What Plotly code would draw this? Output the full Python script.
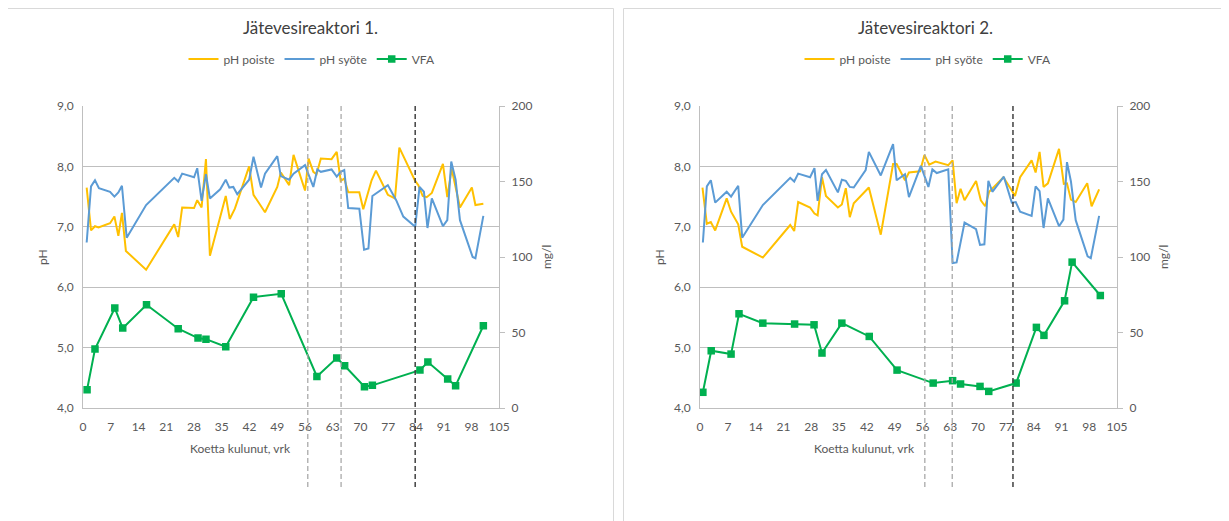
import plotly.graph_objects as go

# ---------------- data: reactor 1 ----------------
r1_poiste_day = [0.9, 2, 3, 3.9, 6.8, 7.9, 8.9, 9.8, 10.8, 15.9, 23, 24, 25, 28, 28.8,
                 29.9, 31, 32, 36, 37, 38.3, 41.9, 43, 45.9, 49, 49.9, 52, 53.1, 56, 56.9,
                 58.1, 58.9, 60, 62.7, 64, 65, 65.9, 66.9, 69.7, 70.7, 72.8, 73.9, 76.9, 78.7,
                 79.8, 83.8, 84.6, 85.7, 86.7, 88, 90.8, 91.9, 93, 95.1, 98.1, 99, 101]
r1_poiste_ph = [7.65, 6.94, 7.01, 6.99, 7.06, 7.17, 6.85, 7.23, 6.60, 6.29, 7.04, 6.83, 7.32, 7.31, 7.44,
                7.32, 8.12, 6.52, 7.51, 7.13, 7.30, 8.00, 7.53, 7.24, 7.66, 7.90, 7.69, 8.19, 7.60, 8.13,
                7.91, 7.87, 8.13, 8.12, 8.24, 7.76, 7.80, 7.57, 7.57, 7.29, 7.77, 7.93, 7.53, 7.47,
                8.31, 7.76, 7.69, 7.51, 7.49, 7.56, 8.04, 7.49, 7.96, 7.32, 7.65, 7.36, 7.38]

r1_syote_day = [0.9, 2, 3, 4, 6.8, 7.9, 8.9, 9.8, 11, 15.9, 23, 24, 25, 28, 28.8,
                29.9, 31, 32, 34.6, 36, 36.9, 37.9, 38.9, 41.9, 43, 44.9, 45.9, 49, 49.9, 52,
                53.1, 56, 56.8, 58.1, 59.1, 60, 62.7, 64, 65, 65.9, 66.9, 69.7, 70.9, 72, 73,
                76.9, 79, 80.8, 83.8, 84.9, 86, 86.9, 88, 90.8, 91.9, 92.9, 94, 95.1, 98.3, 99, 101]
r1_syote_ph = [6.74, 7.67, 7.77, 7.64, 7.58, 7.50, 7.57, 7.68, 6.82, 7.36, 7.81, 7.75, 7.88, 7.82, 7.97,
               7.43, 7.87, 7.47, 7.62, 7.78, 7.65, 7.66, 7.54, 7.78, 8.16, 7.65, 7.88, 8.17, 7.84, 7.78,
               7.88, 8.02, 7.88, 7.66, 7.95, 7.91, 7.95, 7.83, 7.91, 7.94, 7.31, 7.30, 6.62, 6.64, 7.51,
               7.69, 7.44, 7.17, 7.00, 7.66, 7.58, 6.98, 7.47, 7.01, 7.11, 8.08, 7.78, 7.11, 6.50, 6.48, 7.18]

r1_vfa_day = [1, 3, 8, 10, 16, 24, 29, 31, 36, 43, 50, 59, 64, 66, 71, 73, 85, 87, 92, 94, 101]
r1_vfa_mg = [12.1, 39.0, 66.2, 52.9, 68.4, 52.5, 46.3, 45.6, 40.6, 73.4, 75.6, 20.9, 33.1, 28.0,
             14.1, 15.0, 25.1, 30.4, 19.2, 14.8, 54.5]

r1_markers = [56.7, 65.1, 83.8]

# ---------------- data: reactor 2 ----------------
r2_poiste_day = [0.6, 1.7, 2.7, 3.8, 6.7, 7.8, 9.6, 10.6, 15.8, 22.7, 23.7, 24.7, 27.7, 28.8, 29.6,
                 30.7, 31.7, 34.7, 35.7, 36.7, 37.7, 38.7, 42.5, 45.5, 48.6, 49.5, 51.6, 52.6, 55.4, 56.5,
                 57.7, 59.3, 62.5, 63.6, 64.6, 65.6, 66.6, 69.5, 70.7, 71.8, 72.8, 76.4, 78.5, 79.3, 80.6,
                 83.5, 84.5, 85.5, 86.5, 87.6, 90.4, 91.6, 92.4, 93.4, 94.6, 97.5, 98.6, 100.5]
r2_poiste_ph = [7.65, 7.05, 7.08, 6.94, 7.47, 7.25, 7.04, 6.67, 6.49, 7.03, 6.93, 7.41, 7.32, 7.22, 7.19,
                7.82, 7.51, 7.32, 7.37, 7.64, 7.16, 7.39, 7.65, 6.87, 8.04, 8.04, 7.77, 7.90, 7.92, 8.19,
                8.03, 8.08, 8.02, 8.10, 7.39, 7.63, 7.44, 7.76, 7.44, 7.34, 7.58, 7.82, 7.60, 7.51, 7.82,
                8.10, 7.90, 8.24, 7.66, 7.72, 8.29, 7.71, 7.72, 7.45, 7.41, 7.72, 7.34, 7.62]

r2_syote_day = [0.7, 1.7, 2.7, 3.8, 6.7, 7.8, 9.6, 10.6, 15.8, 22.7, 23.7, 24.7, 27.7, 28.8, 29.6,
                30.7, 31.7, 34.7, 35.7, 36.7, 37.7, 38.7, 41.7, 42.5, 45.5, 48.6, 49.5, 51.6, 52.6, 55.6,
                57.5, 58.5, 59.6, 62.5, 63.6, 64.6, 66.6, 69.5, 70.5, 71.6, 72.6, 73.6, 76.5, 78.5, 79.5,
                80.6, 83.5, 84.5, 85.5, 86.5, 87.6, 90.4, 91.5, 92.4, 93.4, 94.6, 97.6, 98.4, 100.5]
r2_syote_ph = [6.74, 7.67, 7.77, 7.40, 7.58, 7.50, 7.68, 6.82, 7.36, 7.81, 7.75, 7.88, 7.82, 7.97, 7.43,
               7.87, 7.94, 7.57, 7.78, 7.76, 7.66, 7.65, 7.94, 8.24, 7.85, 8.37, 7.77, 7.87, 7.49, 8.01,
               7.66, 7.95, 7.89, 7.95, 6.40, 6.41, 7.07, 6.96, 6.70, 6.71, 7.76, 7.58, 7.83, 7.40, 7.41,
               7.25, 7.18, 7.67, 7.59, 6.98, 7.47, 7.01, 7.12, 8.07, 7.75, 7.11, 6.51, 6.48, 7.18]

r2_vfa_day = [0.7, 2.8, 7.8, 9.8, 15.8, 23.8, 28.7, 30.7, 35.7, 42.6, 49.6, 58.7, 63.6, 65.6,
              70.5, 72.7, 79.6, 84.7, 86.6, 91.8, 93.7, 100.8]
r2_vfa_mg = [10.4, 37.9, 35.7, 62.4, 56.2, 55.6, 55.1, 36.4, 56.2, 47.4, 25.1, 16.5, 18.1, 15.9,
             14.3, 11.0, 16.5, 53.4, 48.1, 71.0, 96.6, 74.5]

r2_markers = [56.6, 63.5, 78.8]

titles = ["Jätevesireaktori 1.", "Jätevesireaktori 2."]
series_names = ["pH poiste", "pH syöte", "VFA"]
x_title = "Koetta kulunut, vrk"
y_left_title = "pH"
y_right_title = "mg/l"

# ---------------- styling ----------------
W, H = 1229, 521
OFF = 8  # page body margin offsets the figure by 8 px
FONT = "Lato, Calibri, Carlito, sans-serif"
TXT = "#595959"
GRID = "#BFBFBF"
YELLOW = "#FFC000"
BLUE = "#5B9BD5"
GREEN = "#00B050"

def px(x):
    return (x - OFF) / W

def py(y):
    return 1 - (y - OFF) / H

plot_top, plot_bot = 106, 408
panels = [
    dict(x0=83.1, x1=499.2, box=(7.5, 613.5), cx=310.5, lx=312, xt=240,
         ylab_x=43, yrl_x=547,
         data=(r1_poiste_day, r1_poiste_ph, r1_syote_day, r1_syote_ph, r1_vfa_day, r1_vfa_mg),
         markers=r1_markers),
    dict(x0=700.1, x1=1117.0, box=(623.5, 1227.5), cx=925.5, lx=928, xt=864,
         ylab_x=660, yrl_x=1164,
         data=(r2_poiste_day, r2_poiste_ph, r2_syote_day, r2_syote_ph, r2_vfa_day, r2_vfa_mg),
         markers=r2_markers),
]

fig = go.Figure()
shapes = []
annotations = []
layout = dict(
    width=W, height=H,
    margin=dict(l=0, r=0, t=0, b=0, pad=0, autoexpand=False),
    paper_bgcolor="white", plot_bgcolor="white",
    separators=", ",
    font=dict(family=FONT, size=12, color=TXT),
    showlegend=True,
)

for i, p in enumerate(panels):
    xa = "x" if i == 0 else "x2"
    ya_l = "y" if i == 0 else "y3"
    ya_r = "y2" if i == 0 else "y4"
    leg = "legend" if i == 0 else "legend2"
    pd_, pp, sd, sp, vd, vm = p["data"]

    fig.add_trace(go.Scatter(x=pd_, y=pp, mode="lines", name=series_names[0],
                             line=dict(color=YELLOW, width=2), xaxis=xa, yaxis=ya_l, legend=leg))
    fig.add_trace(go.Scatter(x=sd, y=sp, mode="lines", name=series_names[1],
                             line=dict(color=BLUE, width=2), xaxis=xa, yaxis=ya_l, legend=leg))
    fig.add_trace(go.Scatter(x=vd, y=vm, mode="lines+markers", name=series_names[2],
                             line=dict(color=GREEN, width=2),
                             marker=dict(symbol="square", size=7.5, color=GREEN),
                             xaxis=xa, yaxis=ya_r, legend=leg))

    xdom = [px(p["x0"]), px(p["x1"])]
    ydom = [py(plot_bot), py(plot_top)]
    xkey = "xaxis" if i == 0 else "xaxis2"
    ylkey = "yaxis" if i == 0 else "yaxis3"
    yrkey = "yaxis2" if i == 0 else "yaxis4"

    layout[xkey] = dict(domain=xdom, anchor=ya_l, range=[0, 105], tick0=0, dtick=7,
                        showgrid=False, zeroline=False, showline=True, linecolor=GRID,
                        ticks="", ticklabelstandoff=8, automargin=False,
                        tickfont=dict(size=12, color=TXT))
    layout[ylkey] = dict(domain=ydom, anchor=xa, range=[4, 9], tick0=4, dtick=1,
                         tickformat=".1f", showgrid=True, gridcolor=GRID, gridwidth=1,
                         zeroline=False, showline=True, linecolor=GRID, ticks="",
                         ticklabelstandoff=6, automargin=False,
                         tickfont=dict(size=12, color=TXT))
    layout[yrkey] = dict(domain=ydom, anchor=xa, overlaying=ya_l, side="right",
                         range=[0, 200], tick0=0, dtick=50, showgrid=False, zeroline=False,
                         showline=True, linecolor=GRID, ticks="outside", ticklen=5,
                         tickcolor=GRID, ticklabelstandoff=4, automargin=False,
                         tickfont=dict(size=12, color=TXT))

    layout[leg] = dict(orientation="h", x=px(p["lx"]), xanchor="center",
                       y=py(59), yanchor="middle", bgcolor="rgba(0,0,0,0)",
                       font=dict(size=12, color=TXT), itemwidth=30, tracegroupgap=0)

    # chart border (bottom edge lies below the visible page)
    shapes.append(dict(type="rect", xref="paper", yref="paper",
                       x0=px(p["box"][0]), x1=px(p["box"][1]), y0=py(540), y1=py(8.5),
                       line=dict(color="#D9D9D9", width=1), fillcolor="rgba(0,0,0,0)",
                       layer="below"))
    # dashed phase markers
    for j, m in enumerate(p["markers"]):
        dark = j == 2
        shapes.append(dict(type="line", xref=xa, yref="paper", x0=m, x1=m,
                           y0=py(plot_top), y1=py(490),
                           line=dict(color="#404040" if dark else "#A6A6A6",
                                     width=1.5 if dark else 1.25, dash="5px,3px")))

    annotations.append(dict(text=titles[i], xref="paper", yref="paper",
                            x=px(p["cx"]), y=py(28), xanchor="center", yanchor="middle",
                            showarrow=False, font=dict(size=17, color="#404040")))
    annotations.append(dict(text=x_title, xref="paper", yref="paper",
                            x=px(p["xt"]), y=py(448), xanchor="center", yanchor="middle",
                            showarrow=False, font=dict(size=12, color=TXT)))
    annotations.append(dict(text=y_left_title, xref="paper", yref="paper",
                            x=px(p["ylab_x"]), y=py(257), xanchor="center", yanchor="middle",
                            textangle=-90, showarrow=False, font=dict(size=12, color=TXT)))
    annotations.append(dict(text=y_right_title, xref="paper", yref="paper",
                            x=px(p["yrl_x"]), y=py(257), xanchor="center", yanchor="middle",
                            textangle=-90, showarrow=False, font=dict(size=12, color=TXT)))

layout["shapes"] = shapes
layout["annotations"] = annotations
fig.update_layout(**layout)

fig.write_html("out.html")
